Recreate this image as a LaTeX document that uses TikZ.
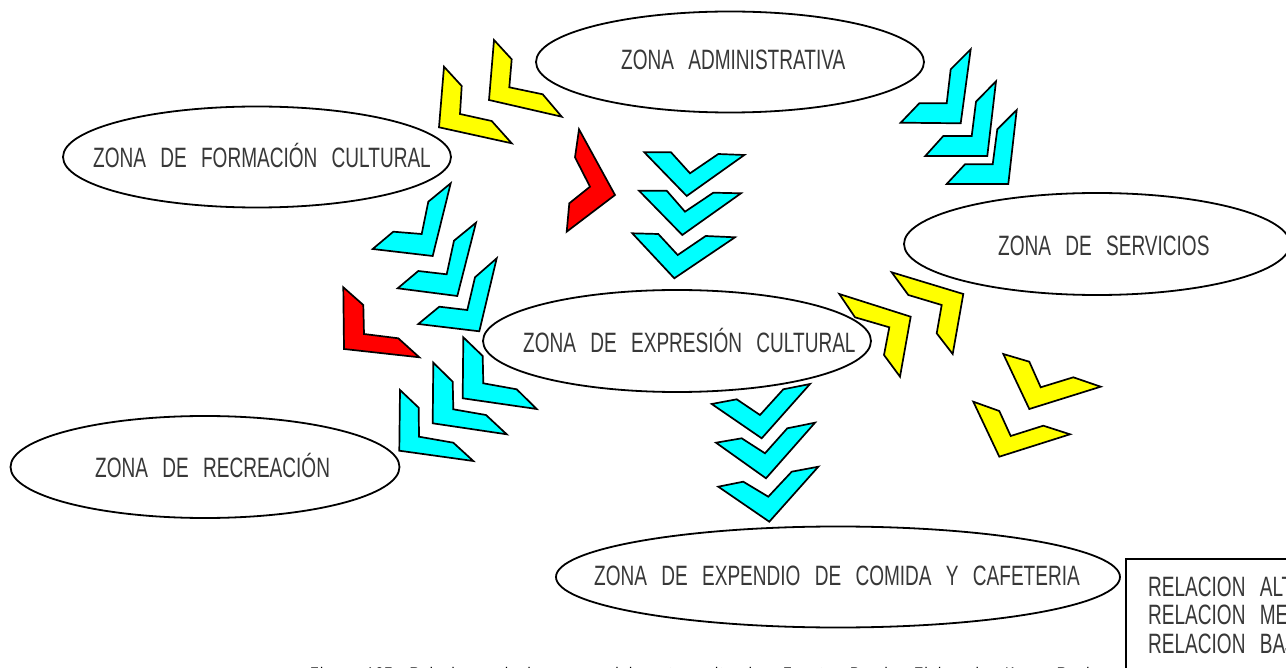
\documentclass[tikz,border=0pt]{standalone}
\usepackage{fontspec}
\setmainfont{Liberation Sans}[FakeStretch=0.68, WordSpace=2.7]
\newfontfamily\capfont{Liberation Sans}[LetterSpace=9, WordSpace=2]
\usetikzlibrary{shapes.geometric}
\definecolor{chyel}{RGB}{255,255,0}
\definecolor{chcyan}{RGB}{0,255,255}
\definecolor{chred}{RGB}{255,0,0}
\tikzset{
  zone/.style={draw=black, line width=1.8pt, ellipse, inner sep=0pt, fill=white},
  ztext/.style={anchor=base west, inner sep=0pt, text=black!78, font=\fontsize{28}{30}\selectfont},
  chev/.style={draw=black, line width=1.7pt, line join=miter},
  cy/.style={chev, fill=chcyan},
  ye/.style={chev, fill=chyel},
  re/.style={chev, fill=chred},
  legbox/.style={draw=black, line width=1.2pt},
  captext/.style={anchor=base west, inner sep=0pt, text=black, font=\capfont\fontsize{14}{16}\selectfont}
}
\begin{document}
\begin{tikzpicture}[x=1pt, y=-1pt]
\useasboundingbox (0,0) rectangle (1286,668);
\clip (0,0) rectangle (1286,668);
\fill[white] (0,0) rectangle (1286,668);

% zones
\node[zone, minimum width=388pt, minimum height=101pt] (admin) at (730,62) {};
\node[zone, minimum width=388pt, minimum height=101pt] (form) at (257,157) {};
\node[zone, minimum width=386pt, minimum height=102pt] (serv) at (1097,244) {};
\node[zone, minimum width=388pt, minimum height=102pt] (expr) at (677,341) {};
\node[zone, minimum width=389pt, minimum height=102pt] (recr) at (205,467) {};
\node[zone, minimum width=564pt, minimum height=101pt] (expe) at (838,577) {};

\node[ztext] (tadmin) at (621,70) {ZONA ADMINISTRATIVA};
\node[ztext] (tform) at (93,168) {ZONA DE FORMACIÓN CULTURAL};
\node[ztext] (tserv) at (998,256) {ZONA DE SERVICIOS};
\node[ztext] (texpr) at (523,353) {ZONA DE EXPRESIÓN CULTURAL};
\node[ztext] (trecr) at (95,477) {ZONA DE RECREACIÓN};
\node[ztext] (texpe) at (594,585) {ZONA DE EXPENDIO DE COMIDA Y CAFETERIA};

% yellow chevrons near administration
\filldraw[ye] (494,40) -- (511.7,59.3) -- (509.3,87.3) -- (542.7,94.3) -- (561.7,116.7) -- (489,100) -- cycle;
\filldraw[ye] (444,66.7) -- (461.7,86) -- (460,114) -- (491.7,121) -- (511.7,143.3) -- (439,127.3) -- cycle;
% red chevron top
\filldraw[re] (579,129.3) -- (615,195) -- (566.7,231.7) -- (569.3,203.3) -- (590,186.7) -- (575,157.3) -- cycle;
% cyan chevrons admin -> services
\filldraw[cy] (970.7,49.3) -- (960.7,123.3) -- (900.7,122.7) -- (919.3,103.3) -- (946.7,103.3) -- (950.7,69.3) -- cycle;
\filldraw[cy] (996,81.3) -- (987.3,156) -- (925.3,156) -- (943.3,136) -- (971.7,136) -- (976,101.7) -- cycle;
\filldraw[cy] (1016.7,110) -- (1008.3,184) -- (946.7,184) -- (965,164.3) -- (992.7,164.3) -- (997.3,129.3) -- cycle;
% cyan chevrons admin -> expression
\filldraw[cy] (644.3,152.3) -- (671,152.3) -- (690,173.3) -- (718.3,154) -- (744.3,155) -- (686.7,196) -- cycle;
\filldraw[cy] (639,190.7) -- (666.7,190.7) -- (685,211.7) -- (713.3,192.7) -- (741,193.3) -- (682.3,235) -- cycle;
\filldraw[cy] (632.3,233.3) -- (658.3,234) -- (677.7,255) -- (705.7,236) -- (735,237.3) -- (674.3,278.3) -- cycle;
% cyan chevrons formation -> expression
\filldraw[cy] (450.7,183.3) -- (432.7,256) -- (372.7,249) -- (393.3,231.7) -- (421.7,234) -- (428.3,201.7) -- cycle;
\filldraw[cy] (476,222.7) -- (457.3,296) -- (397.7,288.3) -- (418.3,271) -- (446.7,274.3) -- (454,240.7) -- cycle;
\filldraw[cy] (496.7,258.3) -- (479.3,331.3) -- (418.3,324) -- (439.3,306.7) -- (467.3,310) -- (475,277.3) -- cycle;
% red chevron left
\filldraw[re] (343.3,287.3) -- (363.3,305) -- (364,334) -- (398.3,338.3) -- (419.3,357.3) -- (344,349) -- cycle;
% cyan chevrons expression -> recreation
\filldraw[cy] (463.3,337.3) -- (482.7,356) -- (483.3,383.3) -- (516.7,389.3) -- (536.7,409) -- (462.7,398.3) -- cycle;
\filldraw[cy] (433.3,362.7) -- (452.7,381.7) -- (453.3,409.3) -- (486,415) -- (506.7,434.3) -- (432.7,423.3) -- cycle;
\filldraw[cy] (400,390) -- (418.7,407.7) -- (419,436.7) -- (453.3,442.7) -- (473.3,461) -- (399.3,450.7) -- cycle;
% cyan chevrons expression -> food
\filldraw[cy] (711.7,404) -- (736.7,399.3) -- (760,415) -- (783.3,389.3) -- (810,384) -- (761.7,438.3) -- cycle;
\filldraw[cy] (716,442.7) -- (741.7,438.3) -- (765,453.3) -- (787.3,428.3) -- (815,422.7) -- (766,478.3) -- cycle;
\filldraw[cy] (718.3,486.7) -- (743.3,481.7) -- (768.3,496.7) -- (791.7,471.7) -- (818.3,466.7) -- (769.3,521.7) -- cycle;
% yellow chevrons expression -> services
\filldraw[ye] (839.3,294) -- (910.7,316.7) -- (900,376.7) -- (884,355) -- (889.3,327.3) -- (855,317.3) -- cycle;
\filldraw[ye] (891.7,272.3) -- (963.3,294) -- (952.7,354) -- (936.7,333.3) -- (941.7,305) -- (908.3,295) -- cycle;
% yellow chevrons right
\filldraw[ye] (1003.3,354) -- (1029.3,361.7) -- (1040.7,387.3) -- (1073.3,377.3) -- (1100.7,386.7) -- (1029.3,409) -- cycle;
\filldraw[ye] (973.3,401.7) -- (999.3,411) -- (1010.7,436) -- (1043.3,425.7) -- (1070,434.3) -- (999.3,456.7) -- cycle;

% legend
\draw[legbox] (1126,700) -- (1126,559) -- (1320,559);
\node[ztext] (l1) at (1148,596) {RELACION ALTA};
\node[ztext] (l2) at (1148,624) {RELACION MEDIA};
\node[ztext] (l3) at (1148,653) {RELACION BAJA};

% caption (cut off at the bottom)
\node[captext] (cap) at (310,677) {Figura 107: Relaciones de las zonas del centro cultural. \quad Fuente: Propia. Elaborado: Kar y Roal};
\end{tikzpicture}
\end{document}
